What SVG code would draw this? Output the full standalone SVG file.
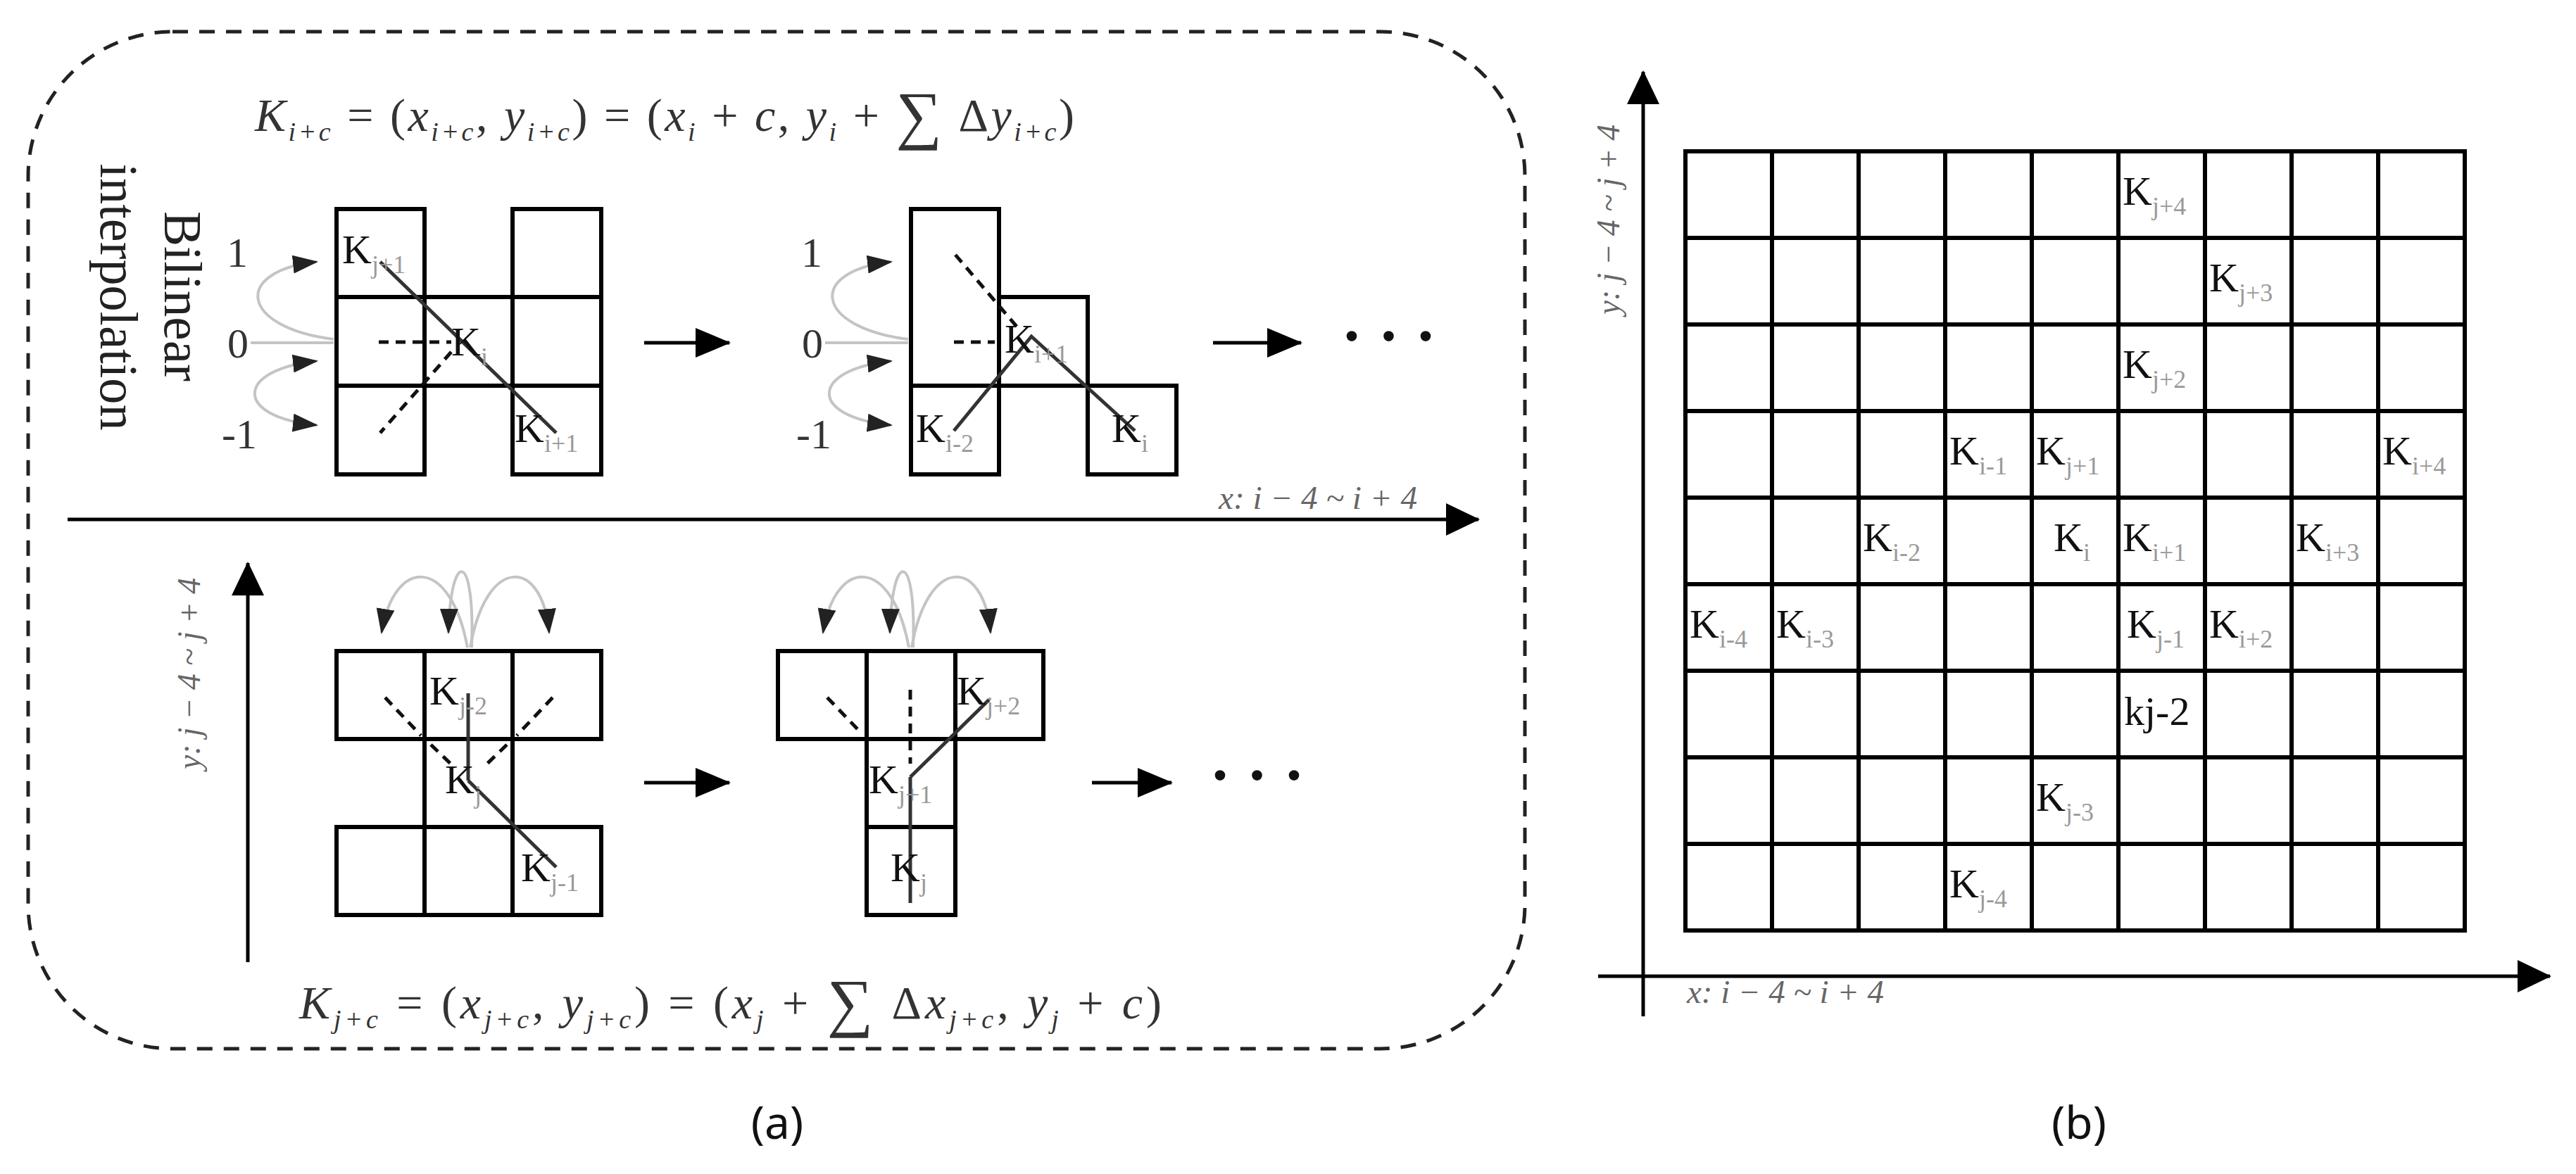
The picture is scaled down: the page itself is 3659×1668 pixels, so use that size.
<svg xmlns="http://www.w3.org/2000/svg" width="3659" height="1668" viewBox="0 0 3659 1668">
<style>
.cell{fill:none;stroke:#000;stroke-width:6}
.k{font-family:"Liberation Serif",serif;font-size:58px;fill:#111}
.sb{font-size:36px;fill:#999}
.dash{fill:none;stroke:#111;stroke-width:5;stroke-dasharray:14 10}
.solid{fill:none;stroke:#333;stroke-width:5}
.garc{fill:none;stroke:#c4c4c4;stroke-width:4}
.fml{font-family:"Liberation Serif",serif;font-size:66px;fill:#333}
.it{font-style:italic}
.fs{font-size:38px;font-style:italic}
.num{font-family:"Liberation Serif",serif;font-size:60px;fill:#333;text-anchor:middle}
.ax{fill:none;stroke:#000;stroke-width:5}
.axl{font-family:"Liberation Serif",serif;font-size:46px;font-style:italic;fill:#666}
.cap{font-family:"Noto Sans","Open Sans",sans-serif;font-size:64px;fill:#111;text-anchor:middle}
.dots{font-family:"Liberation Serif",serif;font-size:90px;font-weight:bold;fill:#111}
.rot{font-family:"Liberation Serif",serif;font-size:76px;fill:#222;text-anchor:middle}
</style>
<defs>
<marker id="ah" markerUnits="userSpaceOnUse" markerWidth="48" markerHeight="46" refX="46" refY="23" orient="auto"><path d="M0,0 L48,23 L0,46 z" fill="#000"/></marker>
<marker id="am" markerUnits="userSpaceOnUse" markerWidth="50" markerHeight="42" refX="48" refY="21" orient="auto"><path d="M0,0 L50,21 L0,42 z" fill="#000"/></marker>
<marker id="ag" markerUnits="userSpaceOnUse" markerWidth="36" markerHeight="26" refX="34" refY="13" orient="auto-start-reverse"><path d="M0,0 L36,13 L0,26 z" fill="#222"/></marker>
</defs>
<rect id="panelA" x="40" y="45" width="2126" height="1445" rx="205" ry="205" fill="none" stroke="#222" stroke-width="5" stroke-dasharray="22 16"/>

<g id="connectors">
<line class="ax" x1="96" y1="738" x2="2100" y2="738" marker-end="url(#ah)"/>
<line class="ax" x1="352" y1="1367" x2="352" y2="800" marker-end="url(#ah)"/>
<line class="ax" x1="915" y1="487" x2="1036" y2="487" stroke-width="7" marker-end="url(#am)"/>
<line class="ax" x1="1723" y1="487" x2="1848" y2="487" stroke-width="7" marker-end="url(#am)"/>
<line class="ax" x1="915" y1="1112" x2="1036" y2="1112" stroke-width="7" marker-end="url(#am)"/>
<line class="ax" x1="1551" y1="1112" x2="1664" y2="1112" stroke-width="7" marker-end="url(#am)"/>
<line class="ax" x1="2334" y1="1444" x2="2334" y2="102" marker-end="url(#ah)"/>
<line class="ax" x1="2270" y1="1387" x2="3622" y2="1387" marker-end="url(#ah)"/>
</g>

<text class="fml" x="362" y="186" textLength="1164" lengthAdjust="spacing"><tspan class="it">K</tspan><tspan class="fs" dy="14">i+c</tspan><tspan dy="-14"> = (</tspan><tspan class="it">x</tspan><tspan class="fs" dy="14">i+c</tspan><tspan dy="-14">, </tspan><tspan class="it">y</tspan><tspan class="fs" dy="14">i+c</tspan><tspan dy="-14">) = (</tspan><tspan class="it">x</tspan><tspan class="fs" dy="14">i</tspan><tspan dy="-14"> + </tspan><tspan class="it">c</tspan><tspan>, </tspan><tspan class="it">y</tspan><tspan class="fs" dy="14">i</tspan><tspan dy="-14"> + </tspan><tspan font-size="92" dy="8">∑</tspan><tspan dy="-8"> Δ</tspan><tspan class="it">y</tspan><tspan class="fs" dy="14">i+c</tspan><tspan dy="-14">)</tspan></text>

<text class="fml" x="425" y="1447" textLength="1225" lengthAdjust="spacing"><tspan class="it">K</tspan><tspan class="fs" dy="14">j+c</tspan><tspan dy="-14"> = (</tspan><tspan class="it">x</tspan><tspan class="fs" dy="14">j+c</tspan><tspan dy="-14">, </tspan><tspan class="it">y</tspan><tspan class="fs" dy="14">j+c</tspan><tspan dy="-14">) = (</tspan><tspan class="it">x</tspan><tspan class="fs" dy="14">j</tspan><tspan dy="-14"> + </tspan><tspan font-size="92" dy="8">∑</tspan><tspan dy="-8"> Δ</tspan><tspan class="it">x</tspan><tspan class="fs" dy="14">j+c</tspan><tspan dy="-14">, </tspan><tspan class="it">y</tspan><tspan class="fs" dy="14">j</tspan><tspan dy="-14"> + </tspan><tspan class="it">c</tspan><tspan>)</tspan></text>

<text class="rot" transform="translate(234,421) rotate(90)" textLength="242" lengthAdjust="spacingAndGlyphs">Bilinear</text>
<text class="rot" transform="translate(143,422) rotate(90)" textLength="379" lengthAdjust="spacingAndGlyphs">interpolation</text>

<text class="axl" x="1731" y="723" textLength="282" lengthAdjust="spacingAndGlyphs">x: i − 4 ~ i + 4</text>
<text class="axl" text-anchor="middle" transform="translate(284,957) rotate(-90)" textLength="272" lengthAdjust="spacingAndGlyphs">y: j − 4 ~ j + 4</text>

<g id="grid1">
<rect class="cell" x="478" y="297" width="125" height="377"/>
<rect class="cell" x="728" y="297" width="126" height="377"/>
<rect class="cell" x="603" y="422" width="125" height="126"/>
<line class="cell" x1="478" y1="422" x2="854" y2="422"/>
<line class="cell" x1="478" y1="548" x2="854" y2="548"/>
<text class="num" x="337" y="379">1</text>
<text class="num" x="338" y="508">0</text>
<text class="num" x="340" y="637">-1</text>
<path class="garc" d="M356 487 L474 487"/>
<path class="garc" d="M474 482 C340 465 330 385 450 372" marker-end="url(#ag)"/>
<path class="garc" d="M450 604 C330 592 335 525 450 513" marker-start="url(#ag)" marker-end="url(#ag)"/>
<line class="solid" x1="540" y1="372" x2="790" y2="615"/>
<line class="dash" x1="538" y1="486" x2="641" y2="486"/>
<line class="dash" x1="641" y1="500" x2="540" y2="615"/>
<text class="k" x="486" y="374">K<tspan class="sb" dy="14">j+1</tspan></text>
<text class="k" x="641" y="505">K<tspan class="sb" dy="14">i</tspan></text>
<text class="k" x="731" y="628">K<tspan class="sb" dy="14">i+1</tspan></text>
</g>

<g id="grid2">
<rect class="cell" x="1294" y="297" width="125" height="377"/>
<rect class="cell" x="1419" y="422" width="126" height="126"/>
<rect class="cell" x="1545" y="548" width="126" height="126"/>
<line class="cell" x1="1294" y1="548" x2="1671" y2="548"/>
<text class="num" x="1153" y="379">1</text>
<text class="num" x="1154" y="508">0</text>
<text class="num" x="1156" y="637">-1</text>
<path class="garc" d="M1172 487 L1290 487"/>
<path class="garc" d="M1290 482 C1156 465 1146 385 1266 372" marker-end="url(#ag)"/>
<path class="garc" d="M1266 604 C1146 592 1151 525 1266 513" marker-start="url(#ag)" marker-end="url(#ag)"/>
<line class="dash" x1="1357" y1="362" x2="1445" y2="465"/>
<line class="dash" x1="1355" y1="486" x2="1413" y2="486"/>
<polyline class="solid" points="1355,612 1465,478 1612,612"/>
<text class="k" x="1427" y="501">K<tspan class="sb" dy="14">i+1</tspan></text>
<text class="k" x="1301" y="628">K<tspan class="sb" dy="14">i-2</tspan></text>
<text class="k" x="1579" y="628">K<tspan class="sb" dy="14">i</tspan></text>
</g>

<g id="ellipsis1"><text class="dots" x="1905" y="508">· · ·</text></g>

<g id="grid3">
<rect class="cell" x="478" y="925" width="376" height="125"/>
<line class="cell" x1="603" y1="925" x2="603" y2="1050"/>
<line class="cell" x1="728" y1="925" x2="728" y2="1050"/>
<rect class="cell" x="603" y="1050" width="125" height="125"/>
<rect class="cell" x="478" y="1175" width="376" height="125"/>
<line class="cell" x1="603" y1="1175" x2="603" y2="1300"/>
<line class="cell" x1="728" y1="1175" x2="728" y2="1300"/>
<path class="garc" d="M664 920 C640 790 560 790 542 899" marker-end="url(#ag)"/>
<path class="garc" d="M670 920 C675 780 640 780 637 899" marker-end="url(#ag)"/>
<path class="garc" d="M668 920 C690 790 770 790 780 899" marker-end="url(#ag)"/>
<line class="dash" x1="547" y1="991" x2="598" y2="1045"/>
<line class="dash" x1="785" y1="991" x2="734" y2="1045"/>
<line class="dash" x1="612" y1="1058" x2="640" y2="1085"/>
<line class="dash" x1="720" y1="1058" x2="692" y2="1085"/>
<line class="solid" x1="665" y1="985" x2="665" y2="1109"/>
<line class="solid" x1="665" y1="1109" x2="790" y2="1232"/>
<text class="k" x="610" y="1001">K<tspan class="sb" dy="14">j-2</tspan></text>
<text class="k" x="632" y="1127">K<tspan class="sb" dy="14">j</tspan></text>
<text class="k" x="740" y="1252">K<tspan class="sb" dy="14">j-1</tspan></text>
</g>

<g id="grid4">
<rect class="cell" x="1105" y="925" width="377" height="125"/>
<line class="cell" x1="1231" y1="925" x2="1231" y2="1050"/>
<line class="cell" x1="1357" y1="925" x2="1357" y2="1050"/>
<rect class="cell" x="1231" y="1050" width="126" height="125"/>
<rect class="cell" x="1231" y="1175" width="126" height="125"/>
<path class="garc" d="M1291 920 C1267 790 1187 790 1169 899" marker-end="url(#ag)"/>
<path class="garc" d="M1297 920 C1302 780 1267 780 1264 899" marker-end="url(#ag)"/>
<path class="garc" d="M1295 920 C1317 790 1397 790 1407 899" marker-end="url(#ag)"/>
<line class="dash" x1="1175" y1="991" x2="1222" y2="1040"/>
<line class="dash" x1="1293" y1="980" x2="1293" y2="1085"/>
<line class="solid" x1="1293" y1="1104" x2="1405" y2="994"/>
<line class="solid" x1="1293" y1="1104" x2="1293" y2="1283"/>
<text class="k" x="1359" y="1001">K<tspan class="sb" dy="14">j+2</tspan></text>
<text class="k" x="1234" y="1127">K<tspan class="sb" dy="14">j+1</tspan></text>
<text class="k" x="1265" y="1252">K<tspan class="sb" dy="14">j</tspan></text>
</g>

<g id="ellipsis2"><text class="dots" x="1718" y="1132">· · ·</text></g>

<text class="cap" x="1104" y="1618">(a)</text>

<g id="gridB">
<rect class="cell" x="2394" y="215" width="1107" height="1107"/>
<path class="cell" d="M2517 215V1322M2640 215V1322M2763 215V1322M2886 215V1322M3009 215V1322M3132 215V1322M3255 215V1322M3378 215V1322M2394 338H3501M2394 461H3501M2394 584H3501M2394 707H3501M2394 830H3501M2394 953H3501M2394 1076H3501M2394 1199H3501"/>
<text class="k" x="3015" y="291">K<tspan class="sb" dy="14">j+4</tspan></text>
<text class="k" x="3138" y="414">K<tspan class="sb" dy="14">j+3</tspan></text>
<text class="k" x="3015" y="537">K<tspan class="sb" dy="14">j+2</tspan></text>
<text class="k" x="2769" y="660">K<tspan class="sb" dy="14">i-1</tspan></text>
<text class="k" x="2892" y="660">K<tspan class="sb" dy="14">j+1</tspan></text>
<text class="k" x="3384" y="660">K<tspan class="sb" dy="14">i+4</tspan></text>
<text class="k" x="2646" y="783">K<tspan class="sb" dy="14">i-2</tspan></text>
<text class="k" x="2917" y="783">K<tspan class="sb" dy="14">i</tspan></text>
<text class="k" x="3015" y="783">K<tspan class="sb" dy="14">i+1</tspan></text>
<text class="k" x="3261" y="783">K<tspan class="sb" dy="14">i+3</tspan></text>
<text class="k" x="2400" y="906">K<tspan class="sb" dy="14">i-4</tspan></text>
<text class="k" x="2523" y="906">K<tspan class="sb" dy="14">i-3</tspan></text>
<text class="k" x="3021" y="906">K<tspan class="sb" dy="14">j-1</tspan></text>
<text class="k" x="3138" y="906">K<tspan class="sb" dy="14">i+2</tspan></text>
<text class="k" x="3017" y="1030" font-size="56">kj-2</text>
<text class="k" x="2892" y="1152">K<tspan class="sb" dy="14">j-3</tspan></text>
<text class="k" x="2769" y="1275">K<tspan class="sb" dy="14">j-4</tspan></text>
</g>

<text class="axl" x="2396" y="1425" textLength="280" lengthAdjust="spacingAndGlyphs">x: i − 4 ~ i + 4</text>
<text class="axl" text-anchor="middle" transform="translate(2300,312) rotate(-90)" textLength="270" lengthAdjust="spacingAndGlyphs">y: j − 4 ~ j + 4</text>

<text class="cap" x="2953" y="1618">(b)</text>
</svg>
